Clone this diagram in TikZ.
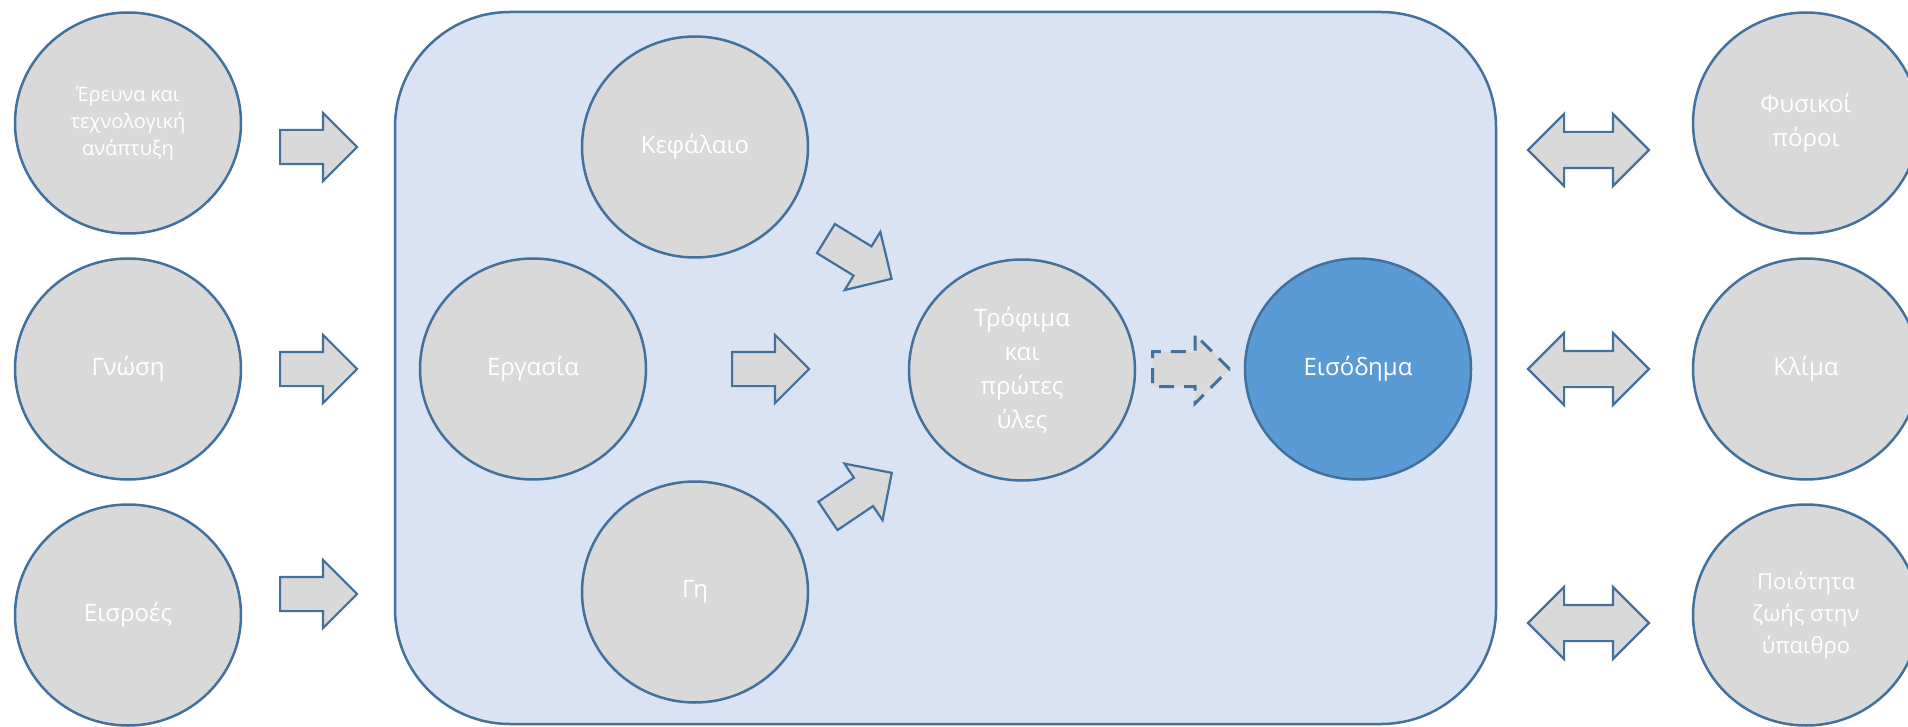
\documentclass[tikz,border=0pt]{standalone}
\usepackage{fontspec}
\setmainfont{Open Sans}
\usepackage{tikz}
\usetikzlibrary{shapes.geometric, shapes.arrows, positioning}
\definecolor{edgeblue}{HTML}{41719C}
\definecolor{circlegray}{HTML}{D9D9D9}
\definecolor{farmblue}{HTML}{DAE3F3}
\definecolor{incomeblue}{HTML}{5B9BD5}

\tikzset{
  factor/.style={draw=edgeblue, fill=circlegray, ellipse, line width=2.5pt,
    minimum width=226pt, minimum height=221pt, inner sep=0pt, text=white,
    align=center, font=\fontsize{24}{34}\selectfont},
  flow/.style={draw=edgeblue, fill=circlegray, single arrow, line width=2.2pt,
    text height=32pt, text depth=0pt, inner sep=0pt, anchor=tail,
    single arrow head extend=17pt, minimum height=77pt},
  twoway/.style={draw=edgeblue, fill=circlegray, double arrow, line width=2.2pt,
    text height=34pt, text depth=0pt, inner sep=0pt,
    double arrow head extend=18pt, minimum height=121pt}
}

\begin{document}
\begin{tikzpicture}[x=1pt, y=-1pt]
  \clip (0,0) rectangle (1908,727);

  % Farm
  \node[draw=edgeblue, fill=farmblue, line width=2.5pt, rounded corners=115pt,
    minimum width=1101pt, minimum height=712pt] (farm) at (945.5, 368) {};

  % Outer factors
  \node[factor, font=\fontsize{20}{27}\selectfont] (research) at (128, 123) {Έρευνα και\\τεχνολογική\\ανάπτυξη};
  \node[factor] (knowledge) at (128, 369) {Γνώση};
  \node[factor] (inputs) at (128, 615) {Εισροές};

  % Production factors
  \node[factor] (capital) at (695, 147) {Κεφάλαιο};
  \node[factor] (labour) at (533, 369) {Εργασία};
  \node[factor] (land) at (695, 592) {Γη};
  \node[factor] (food) at (1022, 370) {Τρόφιμα\\και\\πρώτες\\ύλες};
  \node[factor, fill=incomeblue] (income) at (1358, 369) {Εισόδημα};

  % Environment
  \node[factor] (resources) at (1806, 123) {Φυσικοί\\πόροι};
  \node[factor] (climate) at (1806, 369) {Κλίμα};
  \node[factor, font=\fontsize{22}{32}\selectfont] (life) at (1806, 615) {Ποιότητα\\ζωής στην\\ύπαιθρο};

  % Flows
  \node[flow] (toFarm1) at (279, 147) {};
  \node[flow] (toFarm2) at (279, 369) {};
  \node[flow] (toFarm3) at (279, 594) {};
  \node[flow, rotate=-31.5] (fromCapital) at (825, 238) {};
  \node[flow] (fromLabour) at (731, 369) {};
  \node[flow, rotate=34] (fromLand) at (827, 516.5) {};
  \node[flow, line width=3pt, dash pattern=on 15pt off 10pt] (toIncome) at (1151, 369) {};
  \node[twoway] (withResources) at (1588.5, 150) {};
  \node[twoway] (withClimate) at (1588.5, 369) {};
  \node[twoway] (withLife) at (1588.5, 623) {};
\end{tikzpicture}
\end{document}
